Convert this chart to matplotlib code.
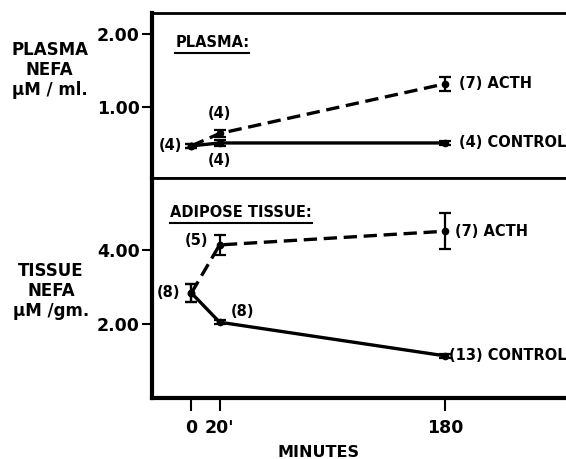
import numpy as np
import matplotlib.pyplot as plt
from matplotlib.lines import Line2D

minutes = [0, 20, 180]
xtick_labels = ["0", "20'", "180"]

plasma_control = [0.47, 0.51, 0.51]
plasma_control_err = [0.03, 0.04, 0.03]
plasma_acth = [0.47, 0.64, 1.32]
plasma_acth_err = [0.03, 0.05, 0.10]

tissue_control = [2.84, 2.05, 1.14]
tissue_control_err = [0.25, 0.05, 0.05]
tissue_acth = [2.84, 4.14, 4.51]
tissue_acth_err = [0.25, 0.27, 0.49]

plt.rcParams['font.family'] = 'DejaVu Sans'
plt.rcParams['font.weight'] = 'bold'

fig = plt.figure(figsize=(5.66, 4.59), dpi=100)
W = 590 - 152
ax1 = fig.add_axes([152 / 566, 1 - 178 / 459, W / 566, 165 / 459])
ax2 = fig.add_axes([152 / 566, 1 - 398 / 459, W / 566, 220 / 459])

for ax in (ax1, ax2):
    ax.set_xlim(-28, 283)
    for s in ax.spines.values():
        s.set_linewidth(2.0)
    ax.spines['left'].set_linewidth(3.0)
    ax.tick_params(axis='y', direction='out', length=7, width=1.5, labelsize=12.5, pad=2)

ek = dict(capsize=4, elinewidth=1.6, capthick=1.6, color='k', marker='o', markersize=4.5, lw=2.4)

# plasma panel
ax1.errorbar(minutes, plasma_acth, yerr=plasma_acth_err, ls=(0, (4, 2)), **ek)
ax1.errorbar(minutes, plasma_control, yerr=plasma_control_err, ls='-', **ek)
ax1.set_ylim(0.03, 2.29)
ax1.set_yticks([1.0, 2.0])
ax1.set_yticklabels(['1.00', '2.00'])
ax1.set_xticks([])

# tissue panel
ax2.errorbar(minutes, tissue_acth, yerr=tissue_acth_err, ls=(0, (4, 2)), **ek)
ax2.errorbar(minutes, tissue_control, yerr=tissue_control_err, ls='-', **ek)
ax2.set_ylim(0.0, 5.95)
ax2.set_yticks([2.0, 4.0])
ax2.set_yticklabels(['2.00', '4.00'])
ax2.set_xticks(minutes)
ax2.set_xticklabels(xtick_labels)
ax2.tick_params(axis='x', direction='out', length=9, width=1.5, labelsize=12.5, pad=6)
ax2.spines['bottom'].set_linewidth(3.0)

fs = 10.5
# plasma annotations
ax1.annotate('(4)', (minutes[0], plasma_control[0]), xytext=(-7, 0), textcoords='offset points', ha='right', va='center', fontsize=fs)
ax1.annotate('(4)', (minutes[1], plasma_acth[1]), xytext=(0, 9), textcoords='offset points', ha='center', va='bottom', fontsize=fs)
ax1.annotate('(4)', (minutes[1], plasma_control[1]), xytext=(0, -7), textcoords='offset points', ha='center', va='top', fontsize=fs)
ax1.annotate('(7) ACTH', (minutes[2], plasma_acth[2]), xytext=(10, 0), textcoords='offset points', ha='left', va='center', fontsize=fs)
ax1.annotate('(4) CONTROL', (minutes[2], plasma_control[2]), xytext=(10, 0), textcoords='offset points', ha='left', va='center', fontsize=fs)

# tissue annotations
ax2.annotate('(8)', (minutes[0], tissue_acth[0]), xytext=(-8, 0), textcoords='offset points', ha='right', va='center', fontsize=fs)
ax2.annotate('(5)', (minutes[1], tissue_acth[1]), xytext=(-8, 3), textcoords='offset points', ha='right', va='center', fontsize=fs)
ax2.annotate('(8)', (minutes[1], tissue_control[1]), xytext=(8, 8), textcoords='offset points', ha='left', va='center', fontsize=fs)
ax2.annotate('(7) ACTH', (minutes[2], tissue_acth[2]), xytext=(7, 0), textcoords='offset points', ha='left', va='center', fontsize=fs)
ax2.annotate('(13) CONTROL', (minutes[2], tissue_control[2]), xytext=(3, 0), textcoords='offset points', ha='left', va='center', fontsize=fs)

t1 = ax1.text(0.053, 0.82, 'PLASMA:', transform=ax1.transAxes, fontsize=fs, va='center')
t2 = ax2.text(0.041, 0.845, 'ADIPOSE TISSUE:', transform=ax2.transAxes, fontsize=fs, va='center')

fig.text(0.088, 1 - 70 / 459, 'PLASMA\nNEFA\nμM / ml.', ha='center', va='center', fontsize=12, linespacing=1.15)
fig.text(0.09, 1 - 291 / 459, 'TISSUE\nNEFA\nμM /gm.', ha='center', va='center', fontsize=12, linespacing=1.15)
fig.text(0.562, 0.015, 'MINUTES', ha='center', va='center', fontsize=11.5)

# underline section titles
fig.canvas.draw()
for t in (t1, t2):
    bb = t.get_window_extent()
    y = (bb.y0 - 3) / fig.bbox.height
    fig.add_artist(Line2D([bb.x0 / fig.bbox.width, bb.x1 / fig.bbox.width], [y, y], color='k', lw=1.5))

fig.savefig('out.png', dpi=100)
